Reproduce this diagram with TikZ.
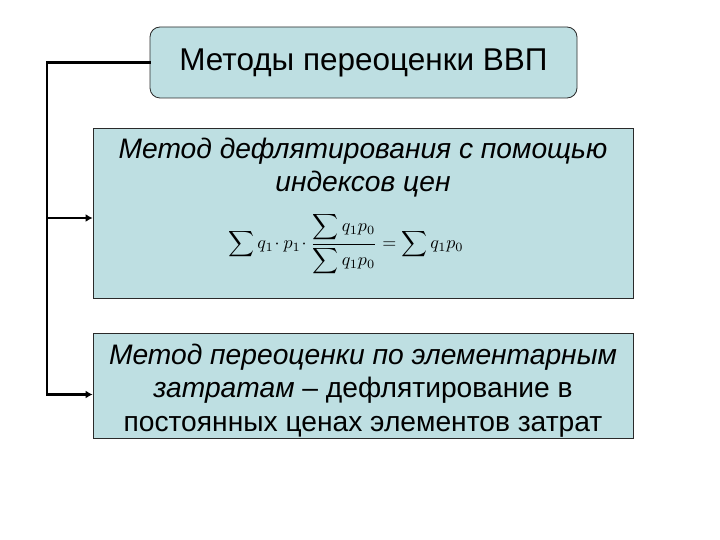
\documentclass[tikz,border=0pt]{standalone}
\usepackage{graphicx}
\usepackage{fontspec}
\setmainfont{Liberation Sans}
\usetikzlibrary{arrows.meta, positioning, calc}
\definecolor{boxfill}{HTML}{BEDFE2}
\definecolor{boxline}{HTML}{2A2A2A}

\tikzset{
  headbox/.style={draw=boxline, fill=boxfill, line width=0.8pt, rounded corners=10pt,
    minimum width=427pt, minimum height=71pt, font=\fontsize{31.5}{36}\selectfont},
  methodbox/.style={draw=boxline, fill=boxfill, line width=0.8pt, minimum width=540pt},
  methodtext/.style={align=center, font=\fontsize{28.2}{33.5}\selectfont},
  link/.style={line width=2.6pt, line cap=rect},
  linkarrow/.style={link, -{Latex[length=7pt, width=8pt]}}
}

\begin{document}
\begin{tikzpicture}[x=1pt, y=-1pt]
\useasboundingbox (0,0) rectangle (720,540);

% Boxes
\node[headbox] (head) at (363.5,62.5) {Методы переоценки ВВП};
\node[methodbox, minimum height=170pt] (index) at (363,213) {};
\node[methodbox, minimum height=105pt] (elem) at (363,385.5) {};

% Text of the first method
\node[methodtext, inner sep=0pt, text depth=1pt, font=\fontsize{28.2}{33.5}\selectfont\itshape,
  below=10pt of index.north] (indextxt)
  {Метод дефлятирования с помощью\\индексов цен};
\node[inner sep=0pt] (formula) at (346,244)
  {\scalebox{1.8}{$\displaystyle \sum q_1\!\cdot p_1\!\cdot
   \frac{\displaystyle\sum q_1 p_0}{\displaystyle\sum q_1 p_0}=\sum q_1 p_0$}};

% Text of the second method
\node[methodtext] (elemtxt) at ($(elem.center)+(0,5)$)
  {\itshape Метод переоценки по элементарным\\
   \itshape затратам \upshape -- дефлятирование в\\
   постоянных ценах элементов затрат};

% Connectors
\coordinate (trunk) at (47,63);
\draw[linkarrow] (head.west) -- (head.west -| trunk) |- ($(elem.west)+(0,9)$);
\draw[linkarrow] ($(index.west -| trunk)+(0,5)$) -- ($(index.west)+(0,5)$);

\end{tikzpicture}
\end{document}
